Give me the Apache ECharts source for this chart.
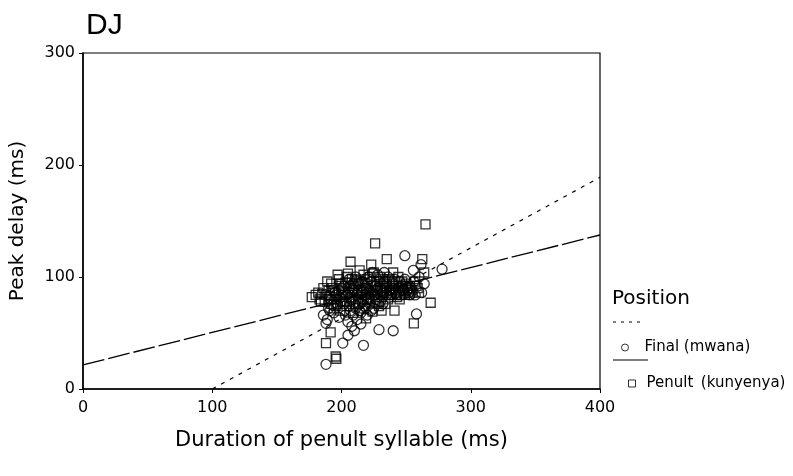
<!DOCTYPE html>
<html>
<head>
<meta charset="utf-8">
<script src="https://cdn.jsdelivr.net/npm/echarts@6/dist/echarts.min.js"></script>
<style>html,body{margin:0;padding:0;background:#fff}#c{width:793px;height:476px}</style>
</head>
<body>
<div id="c"></div>
<script>
// Data (duration of penult syllable ms, peak delay ms)
var finalPoints = [[186,66],[188,22],[188,58.6],[189,62],[190,72],[192,80],[194,68],[195,86],[197,76],[198,64],[199,82],[200,90],[201,41],[202,70],[203,78],[204,84],[205,48],[205,60],[206,74],[207,92],[208,56],[208,80],[209,66],[210,88],[210,52],[211,72],[212,62],[212,84],[213,94],[214,76],[215,58],[215,68],[216,86],[217,39],[217,80],[218,74],[219,90],[220,66],[221,82],[222,76],[223,96],[224,86],[225,72],[226,92],[227,80],[228,102],[229,53],[230,84],[231,88],[232,76],[233,96],[234,90],[235,84],[236,100],[238,88],[240,52],[240,94],[242,86],[244,90],[246,84],[248,88],[249,119],[250,92],[252,86],[254,90],[255.6,106],[257,84],[258,67],[260,100],[261.5,111],[262,86],[264,94],[277.8,107],
  [191,70],[193,75],[196,84],[198,88],[200,78],[202,92],[203,66],[205,86],[206,98],[207,70],[209,94],[210,76],[211,100],[213,82],[214,70],[216,96],[218,84],[219,72],[220,94],[221,100],[222,88],[223,70],[224,104],[226,84],[228,90],[229,96],[230,78],[232,92],[233,104],[235,96],[237,82],[239,90],[241,98],[243,84],[245,96],[247,92],[249,98],[251,88],[253,84],[256,96]];
var penultPoints = [[177,82],[180,84],[183,80],[185,85],[187,78],[189,96],[190,88],[191,83],[192,76],[193,90],[194,72],[195,86],[196,80],[197,102],[198,92],[199,70],[200,84],[201,88],[202,78],[203,95],[204,74],[205,103],[206,90],[207,113.6],[207,82],[208,86],[209,68],[210,92],[211,80],[212,97],[213,76],[214,106],[215,88],[216,84],[217,72],[218,95],[219,63],[219,90],[220,80],[221,86],[222,100],[223,111],[224,69],[224,92],[225,84],[226,130],[226,78],[227,96],[228,88],[229,74],[230,90],[231,70],[231,82],[232,98],[233,86],[234,76],[235,116],[235,92],[236,80],[237,88],[238,84],[239,96],[240,90],[241,70],[242,86],[243,82],[244,100],[245,88],[246,84],[247,90],[248,86],[250,94],[252,84],[254,88],[256,58.6],[258,92],[260,86],[262.5,116],[264,104],[265,147],[269,77],[188,41],[191.6,50.6],[195.5,29],[196,27],
  [182,86],[184,78],[186,90],[188,84],[190,80],[192,94],[194,88],[196,74],[198,98],[200,94],[201,76],[203,84],[204,100],[206,78],[208,98],[209,88],[211,94],[213,86],[214,96],[216,78],[217,102],[219,84],[220,98],[222,80],[223,92],[225,104],[227,88],[228,76],[230,100],[232,84],[233,94],[235,86],[237,98],[239,84],[240,104],[242,92],[245,80],[247,96],[249,84],[251,90],[253,92],[255,86],[257,96],[259,90]];
// Regression line endpoints
var finalLine = [[100,0],[400,189]];
var penultLine = [[0,21.5],[400,137.5]];
var xTicks = [0,100,200,300,400];
var yTicks = [0,100,200,300];

var FONT = 'Liberation Sans, Arial, sans-serif';
var DFONT = 'DejaVu Sans, Liberation Sans, sans-serif';
var chart = echarts.init(document.getElementById('c'), null, {renderer:'canvas'});
chart.setOption({
  backgroundColor:'#fff',
  animation:false,
  title:{text:'DJ', left:81, top:6, textStyle:{fontFamily:FONT, fontSize:30, fontWeight:'normal', color:'#000'}},
  grid:{left:83, right:193, top:53, bottom:87, show:true, borderColor:'#000', borderWidth:1.2, backgroundColor:'transparent'},
  xAxis:{type:'value', min:0, max:400, interval:100,
    name:'Duration of penult syllable (ms)', nameLocation:'middle', nameGap:41,
    nameTextStyle:{fontFamily:DFONT, fontSize:21, color:'#000'},
    axisLine:{show:true, lineStyle:{color:'#000', width:1.5}},
    axisTick:{show:true, length:4, lineStyle:{color:'#000'}},
    axisLabel:{fontFamily:DFONT, fontSize:16, color:'#000', margin:11, formatter:function(v){return xTicks.indexOf(v)>=0?String(v):'';}},
    splitLine:{show:false}},
  yAxis:{type:'value', min:0, max:300, interval:100,
    name:'Peak delay (ms)', nameLocation:'middle', nameGap:55,
    nameTextStyle:{fontFamily:DFONT, fontSize:20, color:'#000'},
    axisLine:{show:true, lineStyle:{color:'#000', width:1.5}},
    axisTick:{show:true, length:4, lineStyle:{color:'#000'}},
    axisLabel:{fontFamily:DFONT, fontSize:16, color:'#000', margin:8, formatter:function(v){return yTicks.indexOf(v)>=0?String(v):'';}},
    splitLine:{show:false}},
  legend:[
    {left:616, top:335, itemWidth:7, itemHeight:7,
      data:[{name:'Final (mwana)', icon:'circle'}],
      textStyle:{fontFamily:DFONT, fontSize:15, color:'#000', padding:[0,0,0,11]},
      itemStyle:{color:'#fff', borderColor:'#000', borderWidth:1}},
    {left:623, top:371, itemWidth:7, itemHeight:7,
      data:[{name:'Penult (kunyenya)', icon:'rect'}],
      formatter:function(n){return 'Penult\u2002(kunyenya)';},
      textStyle:{fontFamily:DFONT, fontSize:15, color:'#000', padding:[0,0,0,6]},
      itemStyle:{color:'#fff', borderColor:'#000', borderWidth:1}}
  ],
  graphic:[
    {type:'text', left:612, top:289, style:{text:'Position', font:'20px '+DFONT, fill:'#000'}},
    {type:'line', shape:{x1:613,y1:322,x2:645,y2:322}, style:{stroke:'#000', lineWidth:1, lineDash:[3,5]}},
    {type:'line', shape:{x1:613,y1:360,x2:648,y2:360}, style:{stroke:'#000', lineWidth:1.2}}
  ],
  series:[
    {name:'Final (mwana)', type:'scatter', symbol:'circle', symbolSize:10, data:finalPoints,
      itemStyle:{color:'rgba(255,255,255,0)', borderColor:'#000', borderWidth:1.3}, z:3},
    {name:'Penult (kunyenya)', type:'scatter', symbol:'rect', symbolSize:9, data:penultPoints,
      itemStyle:{color:'rgba(255,255,255,0)', borderColor:'#000', borderWidth:1.3}, z:3},
    {name:'finalFit', type:'line', data:finalLine, symbol:'none', silent:true,
      lineStyle:{color:'#000', width:1.2, type:[4,6]}, z:2},
    {name:'penultFit', type:'line', data:penultLine, symbol:'none', silent:true,
      lineStyle:{color:'#000', width:1.3, type:[22,4]}, z:2}
  ]
});
</script>
</body>
</html>
